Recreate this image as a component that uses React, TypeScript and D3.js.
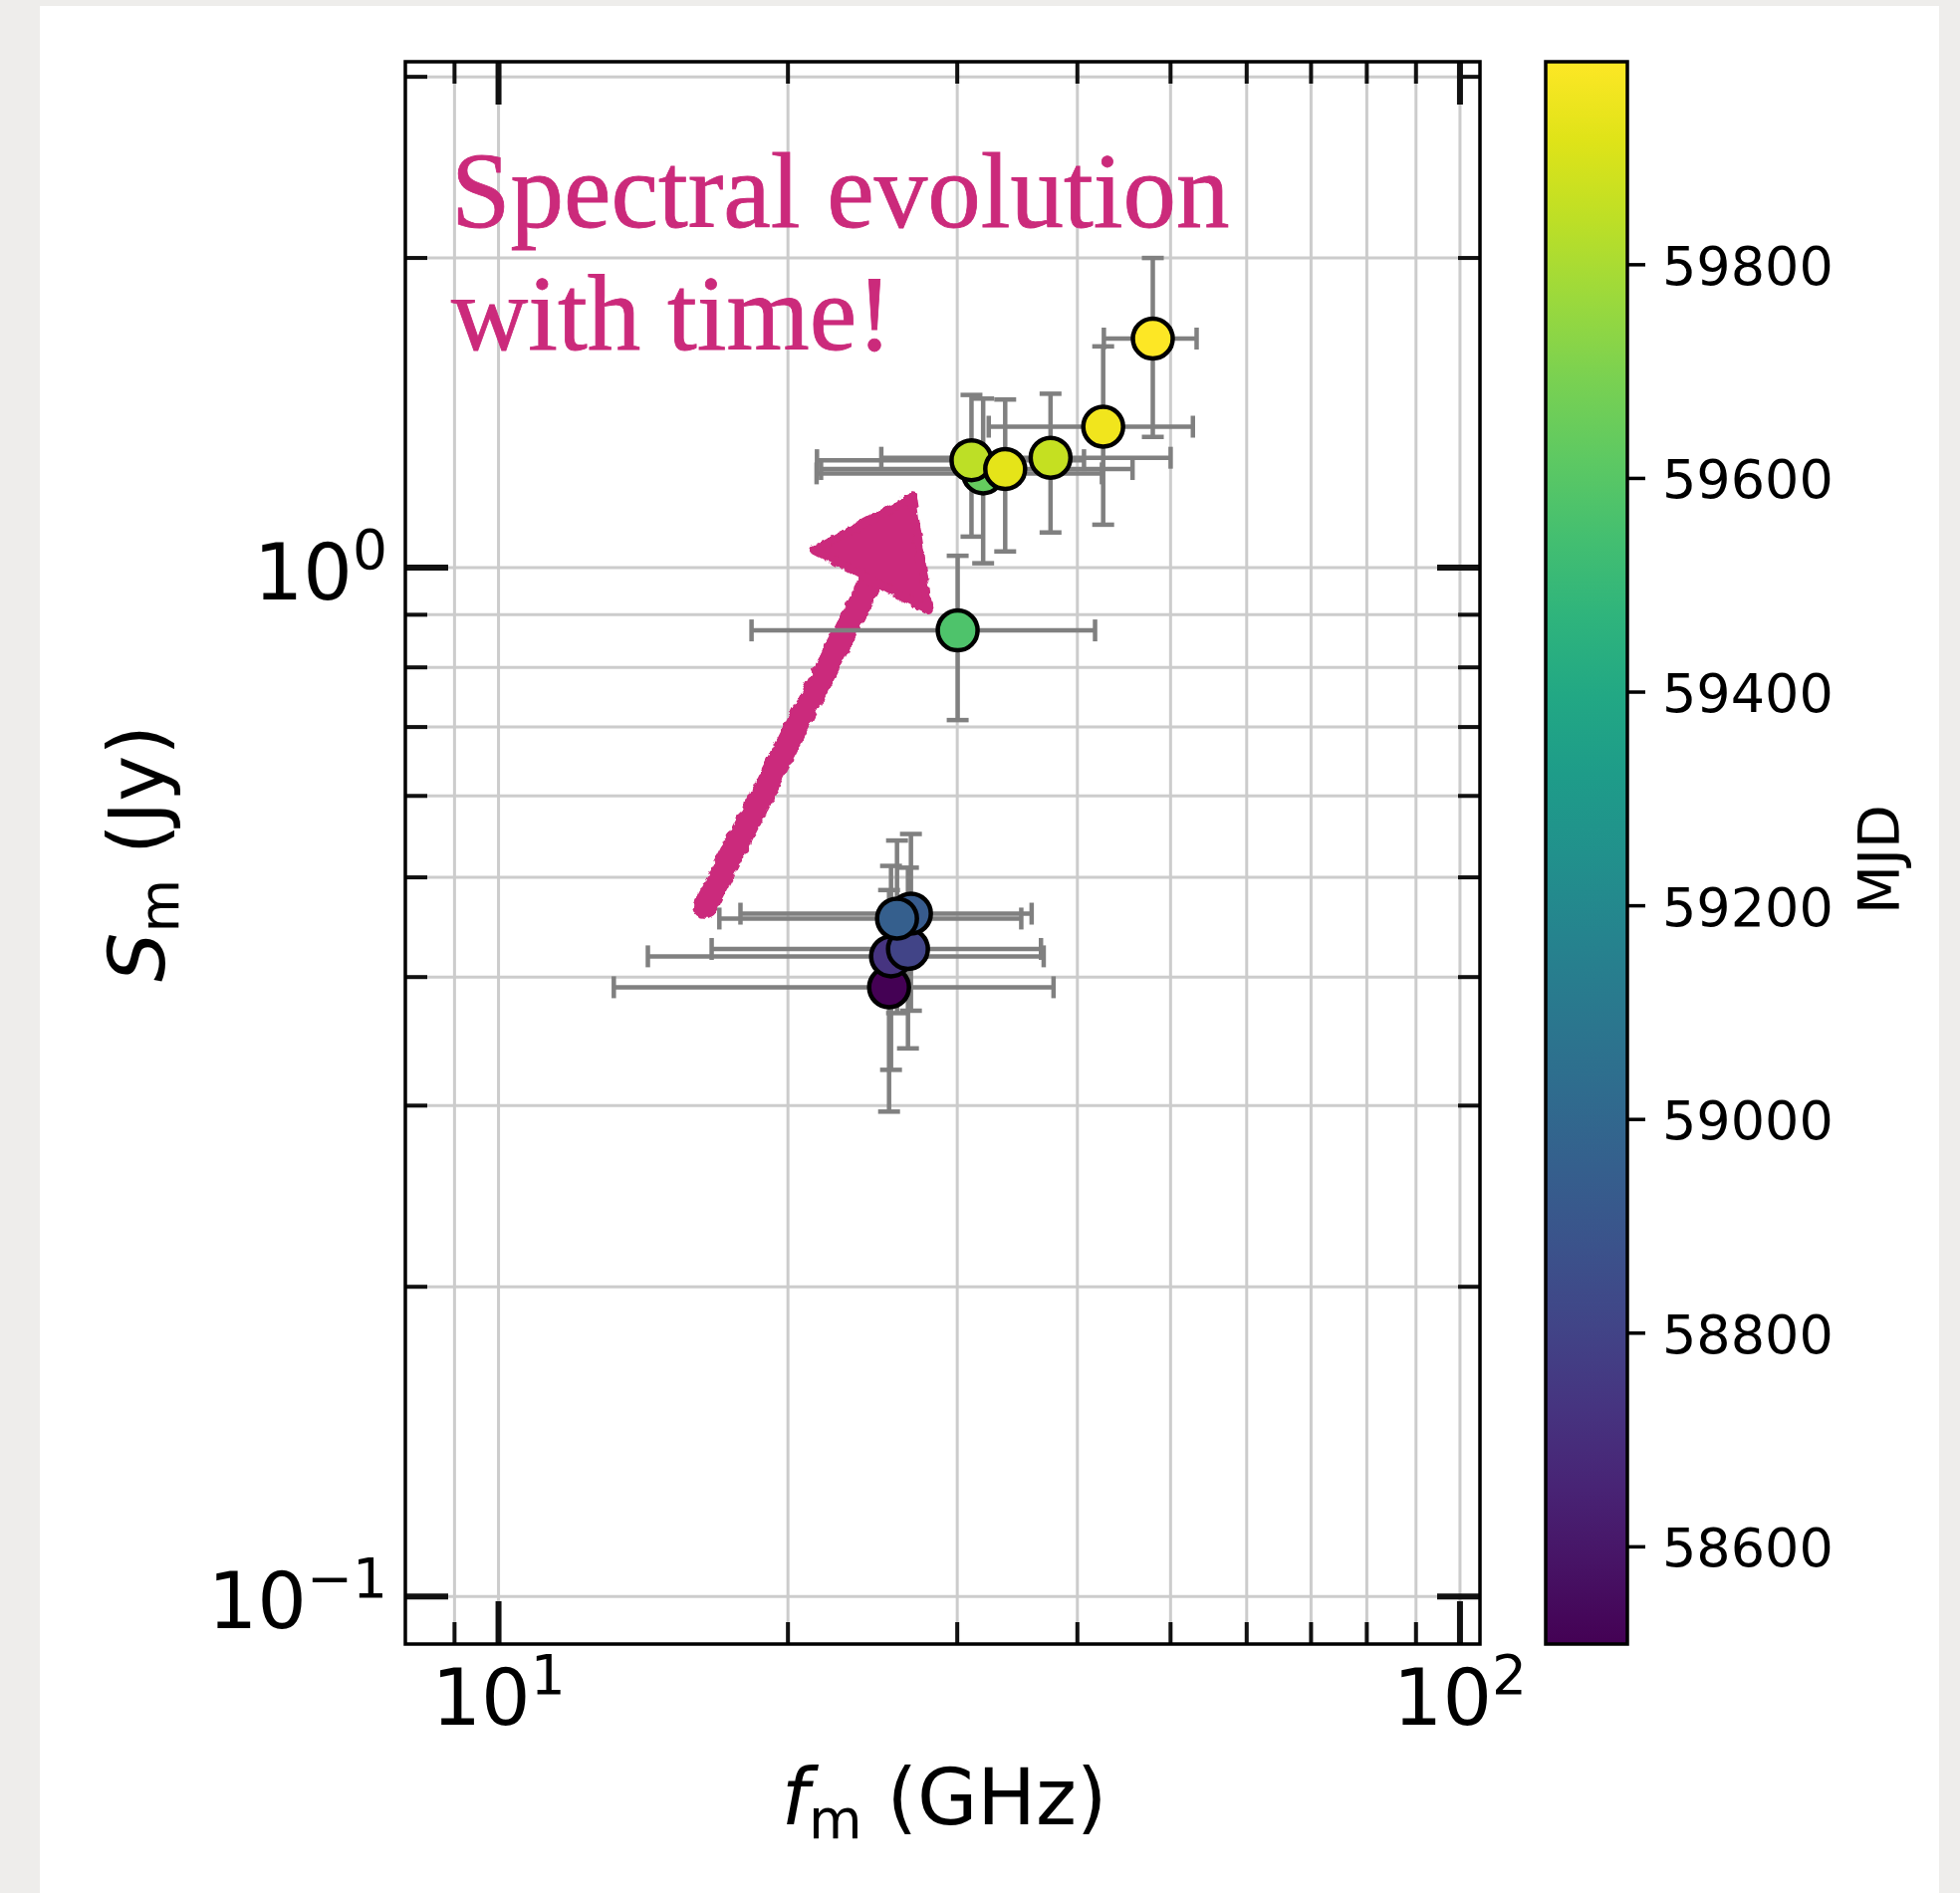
import React from 'react';
import * as d3 from 'd3';

// ---- data ----
const mjd = [58509, 58730, 58805, 58930, 58950, 59575, 59640, 59842, 59857, 59930, 59960, 59990];
const freqGHz = [25.48, 25.6, 26.66, 26.85, 25.97, 30.03, 31.92, 31.04, 37.51, 33.65, 42.55, 47.92];
const freqErr = [12.3, 11.3, 10.0, 9.0, 9.0, 11.7, 10.5, 9.6, 12.5, 12.0, 10.2, 5.3];
const fluxJy = [0.391, 0.419, 0.426, 0.461, 0.456, 0.869, 1.235, 1.272, 1.279, 1.247, 1.371, 1.67];
const fluxErr = [0.095, 0.094, 0.085, 0.09, 0.087, 0.158, 0.225, 0.2, 0.197, 0.21, 0.27, 0.33];
const cbarTicks = [58600, 58800, 59000, 59200, 59400, 59600, 59800];
const xDomain = [8.0, 104.9];
const yDomain = [0.0899, 3.103];
const annotationLines = ['Spectral evolution', 'with time!'];
// arrow annotation in data coordinates (GHz, Jy)
const arrowTail = [16.4, 0.468];
const arrowHead = [[26.9, 1.17], [21.3, 1.04], [28.0, 0.91]];

const W = 1968;
const H = 1901;
const L = 407, R = 1486, T = 62, B = 1651;
const CBL = 1552, CBR = 1634;
const PINK = '#CB2A7B';
const SANS = 'DejaVu Sans, sans-serif';

export default function App() {
  const x = d3.scaleLog().domain(xDomain).range([L, R]);
  const y = d3.scaleLog().domain(yDomain).range([B, T]);
  const ext = d3.extent(mjd) as [number, number];
  const color = d3.scaleSequential(d3.interpolateViridis).domain(ext);
  const cb = d3.scaleLinear().domain(ext).range([B, T]);

  const isMajor = (t: number) => Math.abs(Math.log10(t) - Math.round(Math.log10(t))) < 1e-6;
  const xt = x.ticks().filter((t) => x(t) > L + 2 && x(t) < R - 2);
  const yt = y.ticks().filter((t) => y(t) > T + 2 && y(t) < B - 2);

  const exp = (t: number) => {
    const e = Math.round(Math.log10(t));
    return e < 0 ? '\u2212' + Math.abs(e) : String(e);
  };

  const stops = d3.range(0, 1.0001, 0.05);
  const cap = 11;
  const head = arrowHead.map(([a, b]) => `${x(a)},${y(b)}`).join(' ');
  const headBase = [
    (x(arrowHead[1][0]) + x(arrowHead[2][0])) / 2,
    (y(arrowHead[1][1]) + y(arrowHead[2][1])) / 2,
  ];

  return (
    <svg width={W} height={H} style={{ position: 'absolute', left: 0, top: 0, display: 'block' }}>
      <defs>
        <linearGradient id="vir" x1="0" y1="1" x2="0" y2="0">
          {stops.map((s) => (
            <stop key={s} offset={s} stopColor={d3.interpolateViridis(s)} />
          ))}
        </linearGradient>
        <clipPath id="plotclip">
          <rect x={L} y={T} width={R - L} height={B - T} />
        </clipPath>
        <filter id="rough" x="-10%" y="-10%" width="120%" height="120%">
          <feTurbulence type="fractalNoise" baseFrequency="0.12" numOctaves={2} seed={3} result="n" />
          <feDisplacementMap in="SourceGraphic" in2="n" scale={7} xChannelSelector="R" yChannelSelector="G" />
        </filter>
      </defs>
      {/* page background */}
      <rect x={0} y={0} width={W} height={H} fill="#ffffff" />
      <rect x={0} y={0} width={W} height={6} fill="#EEEDEB" />
      <rect x={0} y={0} width={40} height={H} fill="#EEEDEB" />
      <rect x={1947} y={0} width={W - 1947} height={H} fill="#EEEDEB" />

      {/* grid */}
      <g stroke="#cccccc" strokeWidth={3}>
        {xt.map((t) => (
          <line key={'gx' + t} x1={x(t)} x2={x(t)} y1={T} y2={B} />
        ))}
        {yt.map((t) => (
          <line key={'gy' + t} x1={L} x2={R} y1={y(t)} y2={y(t)} />
        ))}
      </g>

      {/* annotation */}
      <g fill={PINK} fontFamily="Liberation Serif, Times New Roman, serif" fontSize={107}>
        {annotationLines.map((s, i) => (
          <text key={s} x={453} y={228 + i * 123} stroke={PINK} strokeWidth={0.8}>
            {s}
          </text>
        ))}
      </g>
      <g clipPath="url(#plotclip)">
        <g filter="url(#rough)">
          <line
            x1={x(arrowTail[0])}
            y1={y(arrowTail[1])}
            x2={headBase[0]}
            y2={headBase[1]}
            stroke={PINK}
            strokeWidth={24}
            strokeLinecap="round"
          />
          <polygon points={head} fill={PINK} stroke={PINK} strokeWidth={9} strokeLinejoin="round" />
        </g>

        {/* error bars */}
        <g stroke="#808080" strokeWidth={4.5}>
          {mjd.map((m, i) => {
            const cx = x(freqGHz[i]);
            const cy = y(fluxJy[i]);
            const x0 = x(freqGHz[i] - freqErr[i]);
            const x1 = x(freqGHz[i] + freqErr[i]);
            const y0 = y(fluxJy[i] - fluxErr[i]);
            const y1 = y(fluxJy[i] + fluxErr[i]);
            return (
              <g key={'e' + i}>
                <line x1={x0} x2={x1} y1={cy} y2={cy} />
                <line x1={cx} x2={cx} y1={y0} y2={y1} />
                <line x1={x0} x2={x0} y1={cy - cap} y2={cy + cap} />
                <line x1={x1} x2={x1} y1={cy - cap} y2={cy + cap} />
                <line x1={cx - cap} x2={cx + cap} y1={y0} y2={y0} />
                <line x1={cx - cap} x2={cx + cap} y1={y1} y2={y1} />
              </g>
            );
          })}
        </g>
        {/* points */}
        {mjd.map((m, i) => (
          <circle
            key={'p' + i}
            cx={x(freqGHz[i])}
            cy={y(fluxJy[i])}
            r={20}
            fill={color(m)}
            stroke="#000"
            strokeWidth={4.5}
          />
        ))}
      </g>

      {/* ticks (inward, all sides) */}
      <g stroke="#111">
        {xt.map((t) => {
          const len = isMajor(t) ? 43 : 22;
          const sw = isMajor(t) ? 6 : 4;
          return (
            <g key={'tx' + t} strokeWidth={sw}>
              <line x1={x(t)} x2={x(t)} y1={B} y2={B - len} />
              <line x1={x(t)} x2={x(t)} y1={T} y2={T + len} />
            </g>
          );
        })}
        {yt.map((t) => {
          const len = isMajor(t) ? 43 : 22;
          const sw = isMajor(t) ? 6 : 4;
          return (
            <g key={'ty' + t} strokeWidth={sw}>
              <line x1={L} x2={L + len} y1={y(t)} y2={y(t)} />
              <line x1={R} x2={R - len} y1={y(t)} y2={y(t)} />
            </g>
          );
        })}
      </g>
      <rect x={L} y={T} width={R - L} height={B - T} fill="none" stroke="#000" strokeWidth={3.5} />

      {/* tick labels */}
      <g fontFamily={SANS} fill="#000">
        {xt.filter(isMajor).map((t) => (
          <text key={'lx' + t} x={x(t)} y={1732} fontSize={78} textAnchor="middle">
            10
            <tspan dy={-31} fontSize={55}>
              {exp(t)}
            </tspan>
          </text>
        ))}
        {yt.filter(isMajor).map((t) => (
          <text key={'ly' + t} x={389} y={y(t) + 32} fontSize={78} textAnchor="end">
            10
            <tspan dy={-31} fontSize={55}>
              {exp(t)}
            </tspan>
          </text>
        ))}
        {/* axis labels */}
        <text x={948} y={1832} fontSize={78} textAnchor="middle">
          <tspan fontStyle="italic">f</tspan>
          <tspan fontSize={55} dy={14}>m</tspan>
          <tspan dy={-14}>{' (GHz)'}</tspan>
        </text>
        <text transform="translate(165,857) rotate(-90)" fontSize={78} textAnchor="middle">
          <tspan fontStyle="italic">S</tspan>
          <tspan fontSize={55} dy={14}>m</tspan>
          <tspan dy={-14}>{' (Jy)'}</tspan>
        </text>
      </g>

      {/* colorbar */}
      <rect x={CBL} y={T} width={CBR - CBL} height={B - T} fill="url(#vir)" stroke="#000" strokeWidth={3.5} />
      <g stroke="#000" strokeWidth={3.5}>
        {cbarTicks.map((t) => (
          <line key={'ct' + t} x1={CBR} x2={CBR + 18} y1={cb(t)} y2={cb(t)} />
        ))}
      </g>
      <g fontFamily={SANS} fontSize={54} fill="#000">
        {cbarTicks.map((t) => (
          <text key={'cl' + t} x={1669} y={cb(t) + 20}>
            {t}
          </text>
        ))}
        <text transform="translate(1907,863) rotate(-90)" fontSize={57} textAnchor="middle">
          MJD
        </text>
      </g>
    </svg>
  );
}
